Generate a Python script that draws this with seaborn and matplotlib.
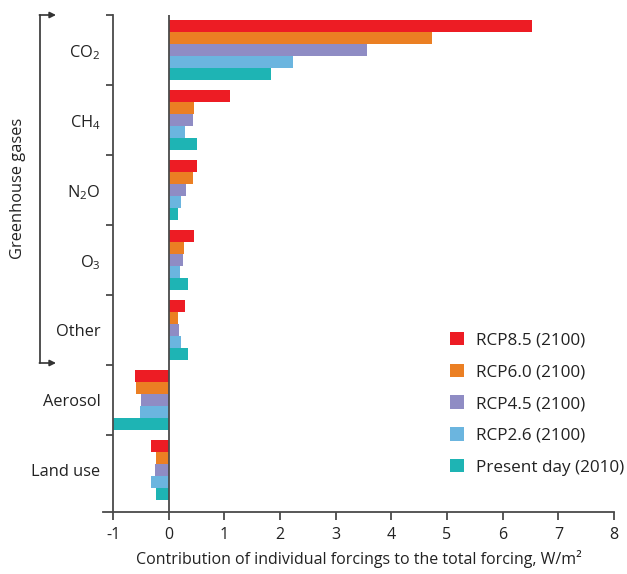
import numpy as np
import pandas as pd
import matplotlib.pyplot as plt
import seaborn as sns
from matplotlib.lines import Line2D

# Forcing contributions (W/m2)
categories = ["CO$_\\mathregular{2}$", "CH$_\\mathregular{4}$", "N$_\\mathregular{2}$O",
              "O$_\\mathregular{3}$", "Other", "Aerosol", "Land use"]
scenarios = ["RCP8.5 (2100)", "RCP6.0 (2100)", "RCP4.5 (2100)", "RCP2.6 (2100)", "Present day (2010)"]
rcp85 = [6.52, 1.10, 0.50, 0.45, 0.30, -0.61, -0.32]
rcp60 = [4.73, 0.45, 0.43, 0.27, 0.16, -0.59, -0.22]
rcp45 = [3.57, 0.43, 0.32, 0.25, 0.18, -0.49, -0.25]
rcp26 = [2.24, 0.29, 0.23, 0.20, 0.23, -0.52, -0.32]
present = [1.83, 0.50, 0.16, 0.34, 0.34, -1.00, -0.23]
colors = ["#ED1C24", "#EB7F23", "#8F8CC4", "#6BB5DF", "#1EB4B4"]

forcing_df = pd.DataFrame({"category": categories * 5,
                           "scenario": np.repeat(scenarios, len(categories)),
                           "value": rcp85 + rcp60 + rcp45 + rcp26 + present})

sns.set_theme(style="white")
plt.rcParams['font.family'] = ['Open Sans', 'DejaVu Sans']
plt.rcParams['mathtext.fontset'] = 'custom'
plt.rcParams['mathtext.rm'] = 'Open Sans'
plt.rcParams['axes.unicode_minus'] = False
axis_col = "#4a4a4a"
text_col = "#222222"

fig = plt.figure(figsize=(6.27, 5.74), dpi=100)
ax = fig.add_axes([103/627, 1-512/574, (614-103)/627, (512-15)/574])

sns.barplot(data=forcing_df, x="value", y="category", hue="scenario", orient="h",
            palette=colors, order=categories, hue_order=scenarios,
            width=0.85, gap=0, saturation=1, linewidth=0, errorbar=None, ax=ax)

ax.set_xlim(-1.18, 8)
ax.set_ylim(6.6, -0.5)
ax.axvline(0, color=axis_col, lw=1.3, zorder=5)

for side in ["top", "right"]:
    ax.spines[side].set_visible(False)
ax.spines["left"].set_position(("data", -1))
for side in ["left", "bottom"]:
    ax.spines[side].set_color(axis_col)
    ax.spines[side].set_linewidth(1.3)

ax.set_xticks(range(-1, 9))
ax.tick_params(axis="x", direction="out", length=5.5, width=1.3, color=axis_col,
               labelsize=11.5, labelcolor=text_col, pad=5, bottom=True)
ax.set_yticks(range(len(categories)))
ax.set_yticklabels(categories)
ax.set_yticks(np.arange(-0.5, 6, 1), minor=True)
ax.tick_params(axis="y", which="major", length=0, labelsize=11.8, labelcolor=text_col, pad=9)
ax.tick_params(axis="y", which="minor", direction="out", length=5, width=1.3, color=axis_col, left=True)
ax.set_ylabel("")
ax.set_xlabel("Contribution of individual forcings to the total forcing, W/m²",
              fontsize=11.5, color=text_col, labelpad=5)

leg = ax.legend(loc="upper left", bbox_to_anchor=(443/627, 1-325/574), bbox_transform=fig.transFigure,
                frameon=False, fontsize=12.3, handlelength=0.85, handleheight=0.85,
                handletextpad=0.7, labelspacing=0.88, borderaxespad=0)
for txt in leg.get_texts():
    txt.set_color(text_col)

# Greenhouse gases bracket
fig.text(18/627, 1-188/574, "Greenhouse gases", rotation=90, ha="center", va="center",
         fontsize=11.8, color=text_col)
fig.add_artist(Line2D([40/627, 40/627], [1-15/574, 1-363/574], color="#333333", lw=1.2))
for y_px in [15, 363]:
    ax.annotate("", xy=(56/627, 1-y_px/574), xytext=(39.4/627, 1-y_px/574),
                xycoords="figure fraction", textcoords="figure fraction",
                arrowprops=dict(arrowstyle="-|>", color="#333333", lw=1.2,
                                mutation_scale=9, shrinkA=0, shrinkB=0))

plt.savefig("out.png", dpi=100)
